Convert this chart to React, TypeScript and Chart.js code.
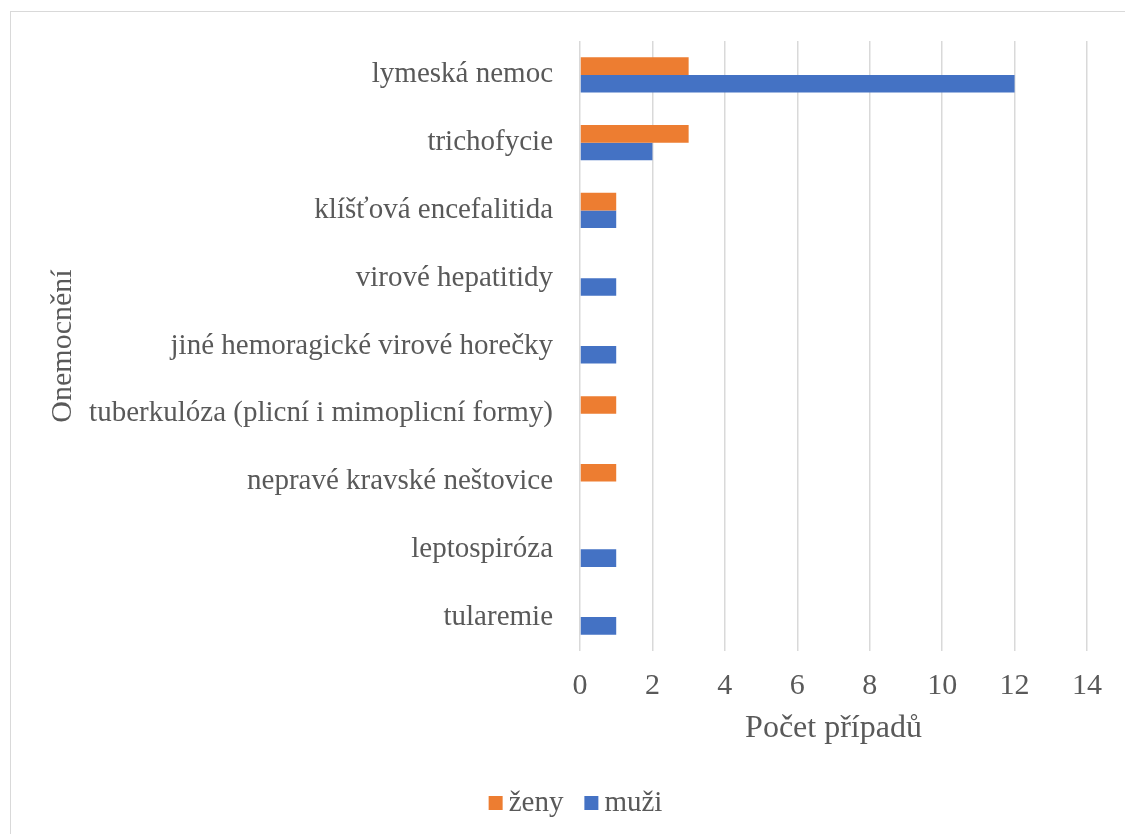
import { useEffect, useRef } from "react";
import { Chart, registerables } from "chart.js";

Chart.register(...registerables);

// Disease categories, listed top to bottom
const categories = [
  "lymeská nemoc",
  "trichofycie",
  "klíšťová encefalitida",
  "virové hepatitidy",
  "jiné hemoragické virové horečky",
  "tuberkulóza (plicní i mimoplicní formy)",
  "nepravé kravské neštovice",
  "leptospiróza",
  "tularemie",
];

// Case counts per category
const zenyValues = [3, 3, 1, 0, 0, 1, 1, 0, 0];
const muziValues = [12, 2, 1, 1, 1, 0, 0, 1, 1];

const seriesLabels = ["ženy", "muži"];
const seriesColors = ["#ED7D31", "#4472C4"];

const xMin = 0;
const xMax = 14;
const xStep = 2;

const xTitle = "Počet případů";
const yTitle = "Onemocnění";

const FONT = '"Liberation Serif", "Times New Roman", serif';
const TEXT = "#595959";

// Legend drawn centred under the axis title: square swatch + label
const bottomLegend = {
  id: "bottomLegend",
  afterDraw(chart: any) {
    const ctx: CanvasRenderingContext2D = chart.ctx;
    ctx.save();
    ctx.font = `29px ${FONT}`;
    const box = 14;
    const gap = 6;
    const itemGap = 21;
    const items = chart.data.datasets.map((ds: any) => ({
      label: ds.label as string,
      color: ds.backgroundColor as string,
      w: ctx.measureText(ds.label).width,
    }));
    const total =
      items.reduce((s: number, it: any) => s + box + gap + it.w, 0) +
      itemGap * (items.length - 1);
    let x = chart.width / 2 - total / 2;
    const y = 791;
    ctx.textBaseline = "middle";
    ctx.textAlign = "left";
    for (const it of items) {
      ctx.fillStyle = it.color;
      ctx.fillRect(x, y - box / 2, box, box);
      ctx.fillStyle = TEXT;
      ctx.fillText(it.label, x + box + gap, y);
      x += box + gap + it.w + itemGap;
    }
    ctx.restore();
  },
};

export default function App() {
  const canvasRef = useRef<HTMLCanvasElement>(null);

  useEffect(() => {
    if (!canvasRef.current) return;
    Chart.defaults.font.family = FONT;
    Chart.defaults.color = TEXT;

    const chart = new Chart(canvasRef.current, {
      type: "bar",
      data: {
        labels: categories,
        datasets: [
          {
            label: seriesLabels[0],
            data: zenyValues,
            backgroundColor: seriesColors[0],
            borderWidth: 0,
            categoryPercentage: 0.52,
            barPercentage: 1,
          },
          {
            label: seriesLabels[1],
            data: muziValues,
            backgroundColor: seriesColors[1],
            borderWidth: 0,
            categoryPercentage: 0.52,
            barPercentage: 1,
          },
        ],
      },
      options: {
        indexAxis: "y",
        responsive: false,
        animation: false,
        layout: { padding: { left: 0, top: 29, right: 53, bottom: 86 } },
        plugins: {
          legend: { display: false },
          tooltip: { enabled: false },
        },
        scales: {
          x: {
            min: xMin,
            max: xMax,
            ticks: {
              stepSize: xStep,
              padding: 17,
              color: TEXT,
              font: { size: 30, family: FONT, lineHeight: 1.2 },
            },
            grid: {
              color: "#d9d9d9",
              lineWidth: 1.5,
              drawTicks: false,
            },
            border: { display: false },
            title: {
              display: true,
              text: xTitle,
              color: TEXT,
              font: { size: 32, family: FONT, lineHeight: 1.2 },
              padding: { top: 0, bottom: 0 },
            },
            afterFit: (s: any) => {
              s.height = 97;
            },
          },
          y: {
            ticks: {
              padding: 27,
              color: TEXT,
              font: { size: 29, family: FONT, lineHeight: 1.2 },
            },
            grid: { display: false, drawTicks: false },
            border: { display: false },
            title: {
              display: true,
              text: yTitle,
              color: TEXT,
              font: { size: 30, family: FONT, lineHeight: 1.2 },
              padding: { top: 34, bottom: 0 },
            },
            afterFit: (s: any) => {
              s.width = 569;
              // category bands are offset, so no label overhang is needed
              s.paddingTop = 0;
              s.paddingBottom = 0;
            },
          },
        },
      },
      plugins: [bottomLegend],
    } as any);

    return () => chart.destroy();
  }, []);

  return (
    <div
      style={{
        position: "absolute",
        left: 0,
        top: 0,
        width: 1125,
        height: 834,
        overflow: "hidden",
        background: "#ffffff",
      }}
    >
      <div
        style={{
          position: "absolute",
          left: 10,
          top: 11,
          width: 1129,
          height: 830,
          border: "1px solid #d9d9d9",
          background: "#ffffff",
        }}
      >
        <canvas
          ref={canvasRef}
          width={1129}
          height={822}
          style={{ display: "block", width: 1129, height: 822 }}
        />
      </div>
    </div>
  );
}
